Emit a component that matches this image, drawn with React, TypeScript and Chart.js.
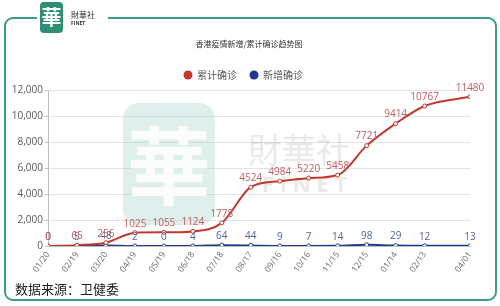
import React, { useEffect, useRef } from 'react';
import { Chart, registerables } from 'chart.js';

Chart.register(...registerables);

const dateStrings = ['2020-01-20', '2020-02-19', '2020-03-20', '2020-04-19', '2020-05-19', '2020-06-18', '2020-07-18', '2020-08-17', '2020-09-16', '2020-10-16', '2020-11-15', '2020-12-15', '2021-01-14', '2021-02-13', '2021-04-01'];
const tickLabels = ['01/20', '02/19', '03/20', '04/19', '05/19', '06/18', '07/18', '08/17', '09/16', '10/16', '11/15', '12/15', '01/14', '02/13', '04/01'];
const cumulative = [0, 65, 256, 1025, 1055, 1124, 1778, 4524, 4984, 5220, 5458, 7721, 9414, 10767, 11480];
const newCases = [0, 5, 48, 2, 0, 4, 64, 44, 9, 7, 14, 98, 29, 12, 13];
const yTicks = [0, 2000, 4000, 6000, 8000, 10000, 12000];

const seriesNames = ['累计确诊', '新增确诊'];
const title = '香港疫情新增/累计确诊趋势图';
const source = '数据来源：卫健委';

const DAY = 86400000;
const t0 = Date.parse(dateStrings[0]);
const dayOffsets = dateStrings.map((d) => Math.round((Date.parse(d) - t0) / DAY));

const RED = '#c0392f';
const BLUE = '#1f3a8c';
const RED_LABEL = '#c65b5e';
const BLUE_LABEL = '#52649c';
const TEAL = '#3a9c8a';
const CJK = '"Noto Sans CJK SC", "Noto Sans", sans-serif';
const NUM = '"Open Sans", "Noto Sans", sans-serif';

function roundRect(ctx: CanvasRenderingContext2D, x: number, y: number, w: number, h: number, r: number) {
  ctx.beginPath();
  ctx.moveTo(x + r, y);
  ctx.lineTo(x + w - r, y);
  ctx.arcTo(x + w, y, x + w, y + r, r);
  ctx.lineTo(x + w, y + h - r);
  ctx.arcTo(x + w, y + h, x + w - r, y + h, r);
  ctx.lineTo(x + r, y + h);
  ctx.arcTo(x, y + h, x, y + h - r, r);
  ctx.lineTo(x, y + r);
  ctx.arcTo(x, y, x + r, y, r);
  ctx.closePath();
}

const decorPlugin = {
  id: 'decor',
  beforeDraw(chart: any) {
    const ctx = chart.ctx as CanvasRenderingContext2D;
    ctx.save();
    ctx.fillStyle = '#ffffff';
    ctx.fillRect(0, 0, chart.width, chart.height);
    ctx.restore();
  },
  beforeDatasetsDraw(chart: any) {
    const ctx = chart.ctx as CanvasRenderingContext2D;
    ctx.save();
    // watermark logo
    roundRect(ctx, 123, 103, 92, 122, 16);
    ctx.fillStyle = 'rgba(160, 208, 200, 0.35)';
    ctx.fill();
    ctx.fillStyle = 'rgba(255,255,255,0.85)';
    ctx.font = `bold 84px ${CJK}`;
    ctx.textAlign = 'center';
    ctx.textBaseline = 'middle';
    ctx.fillText('華', 169, 166);
    ctx.fillStyle = 'rgba(120,120,120,0.16)';
    ctx.font = `34px ${CJK}`;
    ctx.textAlign = 'left';
    ctx.fillText('財華社', 248, 150);
    ctx.font = `bold 22px ${NUM}`;
    ctx.fillText('F I N E T', 262, 186);
    ctx.restore();
  },
  afterDatasetsDraw(chart: any) {
    const ctx = chart.ctx as CanvasRenderingContext2D;
    ctx.save();
    ctx.font = `10px ${NUM}`;
    ctx.textAlign = 'center';
    ctx.textBaseline = 'bottom';
    const colors = [RED_LABEL, BLUE_LABEL];
    [1, 0].forEach((di) => {
      const meta = chart.getDatasetMeta(di);
      const vals = chart.data.datasets[di].data;
      ctx.fillStyle = colors[di];
      meta.data.forEach((pt: any, i: number) => {
        ctx.fillText(String(vals[i].y), pt.x, pt.y - 4);
      });
    });
    ctx.restore();
  },
  afterDraw(chart: any) {
    const ctx = chart.ctx as CanvasRenderingContext2D;
    ctx.save();
    // frame
    ctx.strokeStyle = TEAL;
    ctx.lineWidth = 2;
    ctx.beginPath();
    ctx.moveTo(108, 18);
    ctx.lineTo(488, 18);
    ctx.arcTo(496, 18, 496, 26, 8);
    ctx.lineTo(496, 292);
    ctx.arcTo(496, 300, 488, 300, 8);
    ctx.lineTo(13, 300);
    ctx.arcTo(5, 300, 5, 292, 8);
    ctx.lineTo(5, 26);
    ctx.arcTo(5, 18, 13, 18, 8);
    ctx.lineTo(37, 18);
    ctx.stroke();
    // logo
    roundRect(ctx, 40, 2, 23, 31, 4);
    ctx.fillStyle = '#2f8f74';
    ctx.fill();
    ctx.fillStyle = '#ffffff';
    ctx.font = `bold 20px ${CJK}`;
    ctx.textAlign = 'center';
    ctx.textBaseline = 'middle';
    ctx.fillText('華', 51.5, 17.5);
    ctx.fillStyle = '#333333';
    ctx.textAlign = 'left';
    ctx.font = `8px ${CJK}`;
    ctx.fillText('財華社', 71, 15);
    ctx.font = `bold 5px ${NUM}`;
    ctx.fillText('FINET', 71, 24);
    // title
    ctx.fillStyle = '#333333';
    ctx.font = `8px ${CJK}`;
    ctx.textAlign = 'center';
    ctx.fillText(title, 249, 44);
    // legend
    const items = [
      { x: 188, color: RED, text: seriesNames[0] },
      { x: 254, color: BLUE, text: seriesNames[1] },
    ];
    ctx.font = `10px ${CJK}`;
    ctx.textAlign = 'left';
    items.forEach((it) => {
      ctx.beginPath();
      ctx.arc(it.x, 75, 4.5, 0, Math.PI * 2);
      ctx.fillStyle = it.color;
      ctx.fill();
      ctx.fillStyle = '#595959';
      ctx.fillText(it.text, it.x + 9, 75);
    });
    // source
    ctx.fillStyle = '#222222';
    ctx.font = `13px ${CJK}`;
    ctx.fillText(source, 15, 289);
    ctx.restore();
  },
};

export default function App() {
  const ref = useRef<HTMLCanvasElement | null>(null);
  useEffect(() => {
    if (!ref.current) return;
    const chart = new Chart(ref.current, {
      type: 'line',
      data: {
        datasets: [
          {
            label: seriesNames[0],
            data: dayOffsets.map((x, i) => ({ x, y: cumulative[i] })),
            borderColor: RED,
            backgroundColor: '#ffffff',
            borderWidth: 2,
            pointRadius: 2,
            pointBorderWidth: 1,
            pointBorderColor: RED,
            pointBackgroundColor: '#ffffff',
            cubicInterpolationMode: 'monotone',
          },
          {
            label: seriesNames[1],
            data: dayOffsets.map((x, i) => ({ x, y: newCases[i] })),
            borderColor: BLUE,
            backgroundColor: '#ffffff',
            borderWidth: 2,
            pointRadius: 2,
            pointBorderWidth: 1,
            pointBorderColor: BLUE,
            pointBackgroundColor: '#ffffff',
            cubicInterpolationMode: 'monotone',
          },
        ],
      },
      options: {
        responsive: false,
        animation: false,
        layout: { padding: { left: 8, right: 30, top: 90, bottom: 30 } },
        plugins: { legend: { display: false }, title: { display: false }, tooltip: { enabled: false } },
        scales: {
          x: {
            type: 'linear',
            min: dayOffsets[0],
            max: dayOffsets[dayOffsets.length - 1],
            afterBuildTicks: (s: any) => {
              s.ticks = dayOffsets.map((v) => ({ value: v }));
            },
            afterFit: (s: any) => {
              s.height = 30;
            },
            grid: { display: false, drawTicks: true, tickLength: 3 },
            border: { display: true, color: '#bfbfbf' },
            ticks: {
              autoSkip: false,
              minRotation: 55,
              maxRotation: 55,
              padding: 1,
              color: '#6b6b6b',
              font: { size: 8.5, family: NUM },
              callback: (v: any) => {
                const i = dayOffsets.indexOf(Number(v));
                return i >= 0 ? tickLabels[i] : '';
              },
            },
          },
          y: {
            min: yTicks[0],
            max: yTicks[yTicks.length - 1],
            afterBuildTicks: (s: any) => {
              s.ticks = yTicks.map((v) => ({ value: v }));
            },
            afterFit: (s: any) => {
              s.width = 40;
            },
            grid: { color: '#e3e3e3', tickLength: 3, drawTicks: true, tickColor: '#bfbfbf' },
            border: { display: true, color: '#bfbfbf' },
            ticks: {
              padding: 2,
              color: '#595959',
              font: { size: 10, family: NUM },
              callback: (v: any) => Number(v).toLocaleString('en-US'),
            },
          },
        },
      },
      plugins: [decorPlugin],
    } as any);
    return () => chart.destroy();
  }, []);
  return (
    <div style={{ position: 'fixed', left: 0, top: 0, width: 500, height: 306 }}>
      <canvas ref={ref} width={500} height={306} style={{ display: 'block' }} />
    </div>
  );
}
